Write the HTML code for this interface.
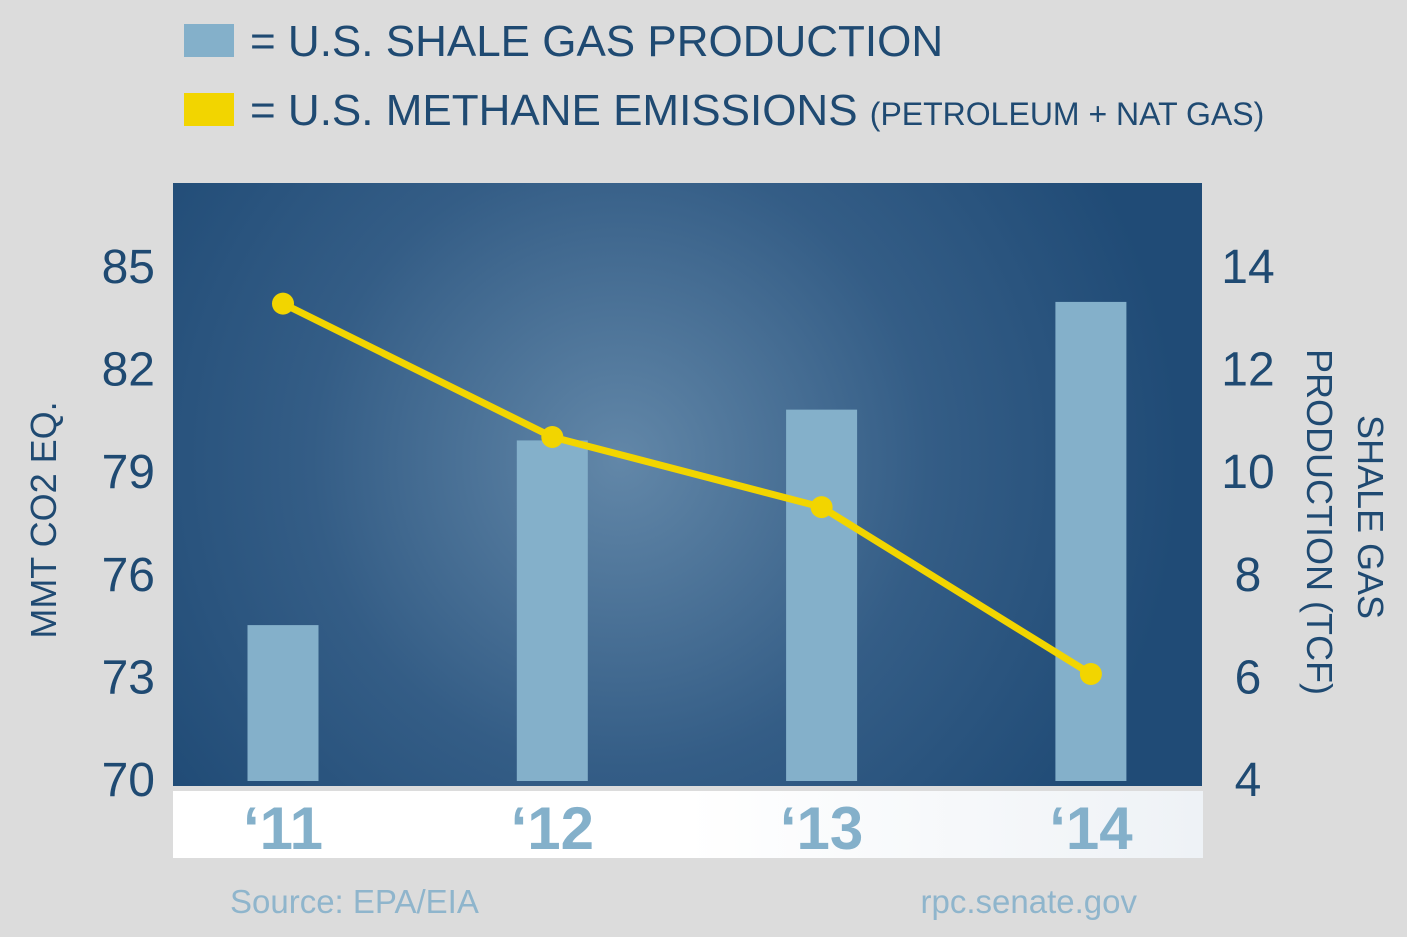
<!DOCTYPE html>
<html><head><meta charset="utf-8"><style>
body{margin:0;width:1407px;height:932px;background:#dcdcdc;overflow:hidden;font-family:"Liberation Sans",sans-serif}
</style></head><body>
<svg width="1407" height="932" xmlns="http://www.w3.org/2000/svg">
<defs>
<radialGradient id="bg" cx="620" cy="460" r="560" gradientUnits="userSpaceOnUse">
<stop offset="0" stop-color="#6287a8"/><stop offset="0.55" stop-color="#345d86"/><stop offset="1" stop-color="#204b76"/></radialGradient>
<linearGradient id="wb" x1="0" x2="1"><stop offset="0" stop-color="#fff"/><stop offset="0.5" stop-color="#fff"/><stop offset="1" stop-color="#eef2f6"/></linearGradient>
</defs>
<g>
<rect x="184" y="24" width="50" height="33" fill="#84b0ca"/>
<text x="250" y="56" font-size="44" fill="#1f4a72">= U.S. SHALE GAS PRODUCTION</text>
<rect x="184" y="93" width="50" height="33" fill="#f2d500"/>
<text x="250" y="125" font-size="44" fill="#1f4a72">= U.S. METHANE EMISSIONS <tspan font-size="32">(PETROLEUM + NAT GAS)</tspan></text>
</g>
<rect x="173" y="183" width="1029" height="603" fill="url(#bg)"/>
<rect x="173" y="791" width="1030" height="67" fill="url(#wb)"/>
<g id="bars"></g>
<g id="line"></g>
<g id="axes"></g>
<text transform="translate(56,520) rotate(-90)" text-anchor="middle" font-size="36" fill="#1f4a72">MMT CO2 EQ.</text>
<text transform="translate(1358,517) rotate(90)" text-anchor="middle" font-size="36" fill="#1f4a72">SHALE GAS</text>
<text transform="translate(1307,522) rotate(90)" text-anchor="middle" font-size="36" fill="#1f4a72">PRODUCTION (TCF)</text>
<text x="230" y="913" font-size="33" fill="#8fb5cc">Source: EPA/EIA</text>
<text x="1137" y="913" text-anchor="end" font-size="33" fill="#8fb5cc">rpc.senate.gov</text>
</svg>
<script>
const categories = ["‘11","‘12","‘13","‘14"];
const shaleGas = [7.0, 10.6, 11.2, 13.3];
const methane = [83.9, 80.0, 77.95, 73.07];
const leftTicks = [70,73,76,79,82,85];
const rightTicks = [4,6,8,10,12,14];
const NS="http://www.w3.org/2000/svg";
const yL=v=>779-(v-70)*34.2;
const yR=v=>779-(v-4)*51.3;
const xC=i=>283+i*269.3;
function mk(t,a,p){const e=document.createElementNS(NS,t);for(const k in a)e.setAttribute(k,a[k]);p.appendChild(e);return e;}
const bars=document.getElementById('bars'),line=document.getElementById('line'),axes=document.getElementById('axes');
shaleGas.forEach((v,i)=>{const r=mk('rect',{x:xC(i)-35.5,y:yR(v),width:71,height:781-yR(v),fill:'#84b0ca'},bars);

});
const pl=mk('polyline',{points:methane.map((v,i)=>xC(i)+','+yL(v)).join(' '),fill:'none',stroke:'#f2d500','stroke-width':7,'stroke-linejoin':'round'},line);


methane.forEach((v,i)=>{const c=mk('circle',{cx:xC(i),cy:yL(v),r:11,fill:'#f2d500'},line);

});
leftTicks.forEach(v=>{const t=mk('text',{x:155,y:yL(v)+17,'text-anchor':'end','font-size':48,fill:'#1f4a72'},axes);t.textContent=v;

});
rightTicks.forEach(v=>{const t=mk('text',{x:1248,y:yR(v)+17,'text-anchor':'middle','font-size':48,fill:'#1f4a72'},axes);t.textContent=v;

});
categories.forEach((c,i)=>{const t=mk('text',{x:xC(i),y:849,'text-anchor':'middle','font-size':60,'font-weight':'bold',fill:'#84b0ca'},axes);t.textContent=c;

});
</script>
</body></html>
